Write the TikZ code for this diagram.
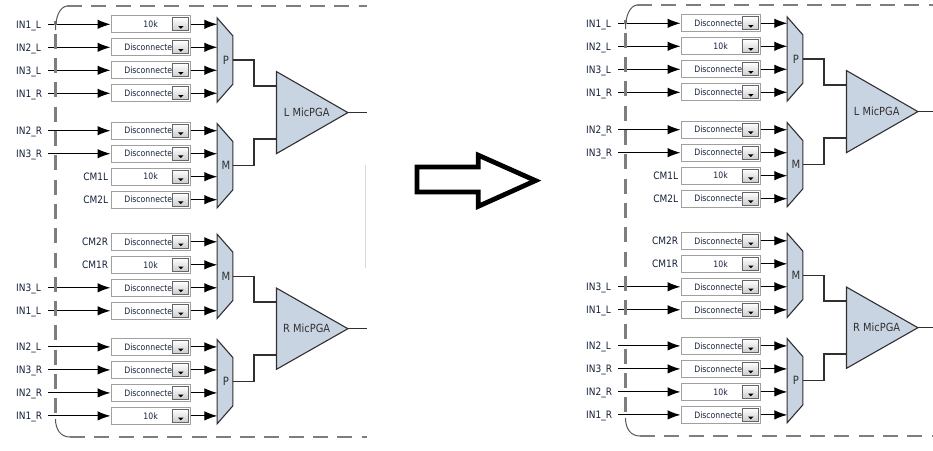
\documentclass[tikz,border=0pt]{standalone}
\usepackage{fontspec}
\setmainfont{DejaVu Sans}
\usetikzlibrary{arrows.meta}
\definecolor{muxfill}{HTML}{C9D4E3}
\definecolor{edgec}{HTML}{303030}
\definecolor{txt}{HTML}{16213A}
\definecolor{boxline}{HTML}{A0A0A0}
\definecolor{dashc}{HTML}{7E7E7E}
\definecolor{btnline}{HTML}{666666}
\definecolor{btnfill}{HTML}{CCCCCC}
\definecolor{faint}{HTML}{D2DAE4}
\newcommand\nx[1]{\scalebox{0.88}[1]{#1}}
\tikzset{
  lab/.style={font=\fontsize{10.2}{12}\selectfont, text=txt, inner sep=0pt, text height=7.4pt, text depth=0pt},
  inlab/.style={lab, anchor=west},
  cmlab/.style={lab, anchor=east},
  valbox/.style={draw=boxline, line width=1pt, fill=white, minimum width=79.3pt, minimum height=17pt, inner sep=0pt, font=\fontsize{8.8}{10}\selectfont, text=txt, text height=6.4pt, text depth=0pt},
  ddbtn/.style={draw=btnline, line width=0.9pt, top color=white, bottom color=btnfill, minimum width=16pt, minimum height=13pt, inner sep=0pt},
  wire/.style={draw=black, line width=1.1pt, -{Latex[length=13pt,width=9.5pt]}},
  muxbody/.style={draw=edgec, line width=1.1pt, fill=muxfill, line join=miter},
  muxframe/.style={inner sep=0pt, minimum width=15.4pt},
  muxlab/.style={font=\fontsize{11.4}{13}\selectfont, text=edgec, inner sep=0pt},
  ampframe/.style={inner sep=0pt, minimum width=71pt},
  amplab/.style={font=\fontsize{11.2}{13}\selectfont, text=edgec, inner sep=0pt},
  outwire/.style={draw=edgec, line width=1.5pt},
  border/.style={draw=dashc, line width=2.2pt, dash pattern=on 15pt off 9.3pt},
  corner/.style={draw=dashc!70!black, line width=1pt},
  bigarrow/.style={draw=black, line width=4.8pt, line join=miter, fill=white},
}
\newcommand\drawbox[3]{%
  \node[valbox] (#1b) at (150.65,#2) {\makebox[61pt]{\nx{#3}}\hspace{18.3pt}};
  \node[ddbtn] (#1d) at ([xshift=-10pt]#1b.east) {};
  \fill[black] ([xshift=-2.7pt,yshift=-1.7pt]#1d.center) -- ++(5.4pt,0pt) -- ++(-2.7pt,-2.8pt) -- cycle;
  \coordinate (#1m) at (217.3,#2);
  \draw[wire] (#1b.east) -- (#1m);
}
\newcommand\inrow[4]{%
  \node[inlab] (#1l) at (16,#2) {\nx{#3}};
  \coordinate (#1s) at (48.3,#2);
  \drawbox{#1}{#2}{#4}%
  \draw[wire] (#1s) -- (#1b.west);
}
\newcommand\cmrow[4]{%
  \node[cmlab] (#1l) at (108.3,#2) {\nx{#3}};
  \drawbox{#1}{#2}{#4}%
}
\newcommand\mux[4]{%
  \node[muxframe, minimum height=#3pt] (#1) at (225,#2) {};
  \draw[muxbody] (#1.north west) -- ([yshift=-18pt]#1.north east) -- ([yshift=18pt]#1.south east) -- (#1.south west) -- cycle;
  \node[muxlab] (#1t) at ([xshift=1pt]#1.center) {\nx{#4}};
}
\newcommand\amp[4]{%
  \node[ampframe, minimum height=#3pt] (#1) at (312.2,#2) {};
  \draw[muxbody] (#1.north west) -- (#1.east) -- (#1.south west) -- cycle;
  \node[amplab] (#1t) at ([xshift=-5.5pt]#1.center) {\nx{#4}};
  \coordinate (#1a) at ([yshift=26.5pt]#1.west);
  \coordinate (#1c) at ([yshift=-26.5pt]#1.west);
  \coordinate (#1o) at (367,#2);
  \draw[outwire] (#1.east) -- (#1o);
}
\newcommand\common[1]{%
  \mux{#1P}{60}{83.8}{P}
  \mux{#1M}{165.7}{83.8}{M}
  \mux{#1N}{276.3}{83.8}{M}
  \mux{#1Q}{381.7}{83.8}{P}
  \amp{#1L}{112.6}{81.6}{L MicPGA}
  \amp{#1R}{328.7}{80.8}{R MicPGA}
  \draw[outwire] (#1P.east) -- ++(21.3pt,0pt) |- (#1La);
  \draw[outwire] (#1M.east) -- ++(21.3pt,0pt) |- (#1Lc);
  \draw[outwire] (#1N.east) -- ++(21.3pt,0pt) |- (#1Ra);
  \draw[outwire] (#1Q.east) -- ++(21.3pt,0pt) |- (#1Rc);
  \draw[border] (67,6) -- (367,6);
  \draw[border, dash phase=11.5pt] (55.5,21) -- (55.5,421);
  \draw[border] (70,437) -- (367,437);
  \draw[corner] (55.5,30) .. controls (55.5,16) and (60,7) .. (67,6);
  \draw[corner] (55.5,419) .. controls (55.5,430) and (61,437) .. (70,437);
}
\begin{document}
\begin{tikzpicture}[x=1pt,y=-1pt]
\useasboundingbox[fill=white] (0,0) rectangle (933,450);
\begin{scope}
\inrow{A1}{24.3}{IN1\_L}{10k}
\inrow{A2}{47.3}{IN2\_L}{Disconnected}
\inrow{A3}{70.3}{IN3\_L}{Disconnected}
\inrow{A4}{93.3}{IN1\_R}{Disconnected}
\inrow{A5}{130.7}{IN2\_R}{Disconnected}
\inrow{A6}{153.7}{IN3\_R}{Disconnected}
\cmrow{A7}{176.7}{CM1L}{10k}
\cmrow{A8}{199.7}{CM2L}{Disconnected}
\cmrow{A9}{241.8}{CM2R}{Disconnected}
\cmrow{A10}{264.8}{CM1R}{10k}
\inrow{A11}{287.8}{IN3\_L}{Disconnected}
\inrow{A12}{310.8}{IN1\_L}{Disconnected}
\inrow{A13}{346.9}{IN2\_L}{Disconnected}
\inrow{A14}{369.9}{IN3\_R}{Disconnected}
\inrow{A15}{392.9}{IN2\_R}{Disconnected}
\inrow{A16}{415.9}{IN1\_R}{10k}
\common{A}
\draw[faint, line width=1pt] (365,165) -- (365,268);
\end{scope}
\begin{scope}[shift={(570,-1)}]
\inrow{B1}{24.3}{IN1\_L}{Disconnected}
\inrow{B2}{47.3}{IN2\_L}{10k}
\inrow{B3}{70.3}{IN3\_L}{Disconnected}
\inrow{B4}{93.3}{IN1\_R}{Disconnected}
\inrow{B5}{130.7}{IN2\_R}{Disconnected}
\inrow{B6}{153.7}{IN3\_R}{Disconnected}
\cmrow{B7}{176.7}{CM1L}{10k}
\cmrow{B8}{199.7}{CM2L}{Disconnected}
\cmrow{B9}{241.8}{CM2R}{Disconnected}
\cmrow{B10}{264.8}{CM1R}{10k}
\inrow{B11}{287.8}{IN3\_L}{Disconnected}
\inrow{B12}{310.8}{IN1\_L}{Disconnected}
\inrow{B13}{346.9}{IN2\_L}{Disconnected}
\inrow{B14}{369.9}{IN3\_R}{Disconnected}
\inrow{B15}{392.9}{IN2\_R}{10k}
\inrow{B16}{415.9}{IN1\_R}{Disconnected}
\common{B}
\end{scope}
\draw[bigarrow] (417,167) -- (478.3,167) -- (478.3,155.2) -- (535.5,180.6) -- (478.3,206.3) -- (478.3,192) -- (417,192) -- cycle;
\end{tikzpicture}
\end{document}
